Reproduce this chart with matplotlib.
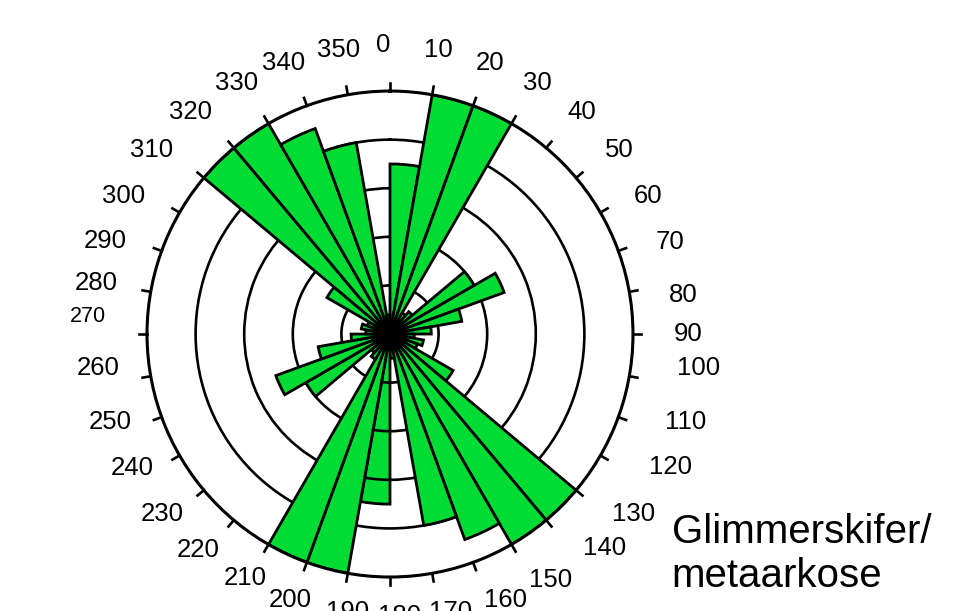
import numpy as np
from matplotlib import pyplot as plt

plt.rcParams['font.family'] = ['Liberation Sans', 'DejaVu Sans']

# 10-degree bins (start angle, clockwise from north)
BIN_START   = np.arange(0, 360, 10)
# bar lengths in ring units (outer circle = 5)
COUNTS      = [3.5, 5.0, 5.0, 0.5, 0.6, 2.0, 2.5, 1.5, 0.85, 0.5, 0.7, 0.6,
               1.5, 5.0, 5.0, 4.5, 4.0, 0.5, 3.5, 5.0, 5.0, 0.6, 0.5, 2.0,
               2.5, 1.5, 0.8, 0.5, 0.6, 0.5, 1.5, 5.0, 5.0, 4.5, 4.0, 0.4]
RINGS       = [1, 2, 3, 4]
RMAX        = 5
TICK_LABELS = [str(a) for a in range(0, 360, 10)]
TITLE       = 'Glimmerskifer/\nmetaarkose'

# where the original put each angle label (degrees, ring units)
LABEL_ANGLE  = [-1.4, 9.6, 20.3, 30.4, 40.8, 51.3, 61.9, 71.8, 82.4, 90.0, 96.3, 106.6,
                115.4, 126.4, 135.0, 146.8, 156.6, 167.8, 178.0, 188.6, 200.6, 210.7, 221.6, 231.7,
                242.5, 252.6, 263.4, 273.4, 279.8, 288.0, 297.4, 307.7, 318.0, 328.6, 338.5, 349.7]
LABEL_RADIUS = [5.95, 5.93, 5.95, 5.99, 6.03, 6.05, 6.03, 6.07, 6.09, 6.13, 6.38, 6.34,
                6.38, 6.23, 6.23, 6.05, 5.97, 5.85, 5.80, 5.78, 5.84, 5.84, 5.95, 5.97,
                5.97, 6.03, 6.05, 6.23, 6.13, 6.17, 6.17, 6.19, 6.15, 6.05, 5.99, 5.95]

GREEN = '#00dc34'

fig = plt.figure(figsize=(9.54, 6.11), dpi=100)
ax  = fig.add_axes([0.1541, 0.0556, 0.5094, 0.7954], projection='polar')
ax.set_theta_zero_location('N')
ax.set_theta_direction(-1)

ax.bar(np.radians(BIN_START), COUNTS, width=np.radians(10), align='edge',
       color=GREEN, edgecolor='black', linewidth=2.0, zorder=2)

# rings (behind the bars)
ax.set_ylim(0, RMAX)
ax.set_rgrids(RINGS, labels=[])
ax.yaxis.grid(True, color='black', linewidth=1.9, linestyle='-')
ax.set_axisbelow(True)

# in the original the rings show through the 180-190 bar
th = np.radians(np.linspace(180, 190, 20))
for r in RINGS:
    if r < COUNTS[18]:
        ax.plot(th, np.full_like(th, r), color='black', linewidth=1.9, zorder=3)

# outer circle and outward ticks every 10 degrees
ax.spines['polar'].set_linewidth(2.2)
ax.set_xticks([])
ax.xaxis.grid(False)
for a in np.radians(BIN_START):
    ax.plot([a, a], [RMAX, RMAX * 1.034], color='black', linewidth=1.9,
            clip_on=False, zorder=3)

for lab, ang, rad in zip(TICK_LABELS, LABEL_ANGLE, LABEL_RADIUS):
    ax.text(np.radians(ang), rad, lab, ha='center', va='center',
            fontsize=15.5 if lab == '270' else 18.5)

fig.text(0.704, 0.16, TITLE, fontsize=29, ha='left', va='top')

fig.savefig('out.png', dpi=100)
